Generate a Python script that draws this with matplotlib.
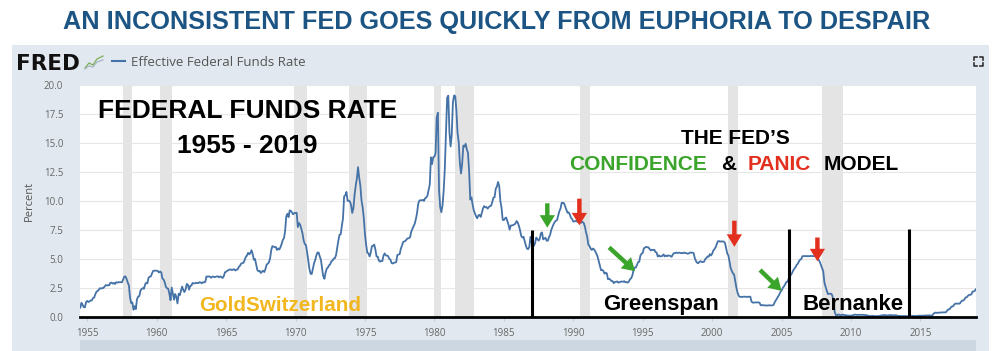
import numpy as np
import matplotlib
matplotlib.use("Agg")
import matplotlib.pyplot as plt
from matplotlib.patches import Rectangle
from matplotlib.lines import Line2D

W, H = 993, 351

# ---------------- data: Effective Federal Funds Rate (monthly, from Jul 1954) ----------------
start_year = 1954.5
rate_1950s = [0.80, 1.22, 1.06, 0.85, 0.83, 1.28,
              1.39, 1.29, 1.35, 1.43, 1.43, 1.64, 1.68, 1.96, 2.18, 2.24, 2.35, 2.48,
              2.45, 2.50, 2.50, 2.62, 2.75, 2.71, 2.75, 2.73, 2.95, 2.96, 2.88, 2.94,
              2.84, 3.00, 2.96, 3.00, 3.00, 3.00, 2.99, 3.24, 3.47, 3.50, 3.28, 2.98,
              2.72, 1.67, 1.20, 1.26, 0.63, 0.93, 0.68, 1.53, 1.76, 1.80, 2.27, 2.42,
              2.48, 2.43, 2.80, 2.96, 2.90, 3.39, 3.47, 3.50, 3.76, 3.98, 4.00, 3.99]
rate_1960s = [3.99, 3.97, 3.84, 3.92, 3.85, 3.32, 3.23, 2.98, 2.60, 2.47, 2.44, 1.98,
              1.45, 2.54, 2.02, 1.49, 1.98, 1.73, 1.17, 2.00, 1.88, 2.26, 2.62, 2.33,
              2.15, 2.37, 2.85, 2.78, 2.36, 2.68, 2.71, 2.93, 2.90, 2.90, 2.94, 2.93,
              2.92, 3.00, 2.98, 2.90, 3.00, 2.99, 3.02, 3.49, 3.48, 3.50, 3.48, 3.38,
              3.48, 3.48, 3.43, 3.47, 3.50, 3.50, 3.42, 3.50, 3.45, 3.36, 3.52, 3.85,
              3.90, 3.98, 4.04, 4.09, 4.10, 4.04, 4.09, 4.12, 4.01, 4.08, 4.10, 4.32,
              4.42, 4.60, 4.65, 4.67, 4.90, 5.17, 5.30, 5.53, 5.40, 5.53, 5.76, 5.40,
              4.94, 5.00, 4.53, 4.05, 3.94, 3.98, 3.79, 3.90, 3.99, 3.88, 4.13, 4.51,
              4.60, 4.71, 5.05, 5.76, 6.11, 6.07, 6.02, 6.03, 5.78, 5.91, 5.82, 6.02,
              6.30, 6.64, 6.79, 7.41, 8.67, 8.90, 8.61, 9.19, 9.15, 9.00, 8.85, 8.97]
rate_1970s = [8.98, 8.98, 7.76, 8.10, 7.95, 7.61, 7.21, 6.61, 6.29, 6.20, 5.60, 4.90,
              4.14, 3.72, 3.71, 4.15, 4.63, 4.91, 5.31, 5.56, 5.55, 5.20, 4.91, 4.14,
              3.50, 3.29, 3.83, 4.17, 4.27, 4.46, 4.55, 4.80, 4.87, 5.04, 5.06, 5.33,
              5.94, 6.58, 7.09, 7.12, 7.84, 8.49, 10.40, 10.50, 10.78, 10.01, 10.03, 9.95,
              9.65, 8.97, 9.35, 10.51, 11.31, 11.93, 12.92, 12.01, 11.34, 10.06, 9.45, 8.53,
              7.13, 6.24, 5.54, 5.49, 5.22, 5.55, 6.10, 6.14, 6.24, 5.82, 5.22, 5.20,
              4.87, 4.77, 4.84, 4.82, 5.29, 5.48, 5.31, 5.29, 5.25, 5.02, 4.95, 4.65,
              4.61, 4.68, 4.69, 4.73, 5.35, 5.39, 5.42, 5.90, 6.14, 6.47, 6.51, 6.56,
              6.70, 6.78, 6.79, 6.89, 7.36, 7.60, 7.81, 8.04, 8.45, 8.96, 9.76, 10.03,
              10.07, 10.06, 10.09, 10.01, 10.24, 10.29, 10.47, 10.94, 11.43, 13.77, 13.18, 13.78]
rate_1980s = [13.82, 14.13, 17.19, 17.61, 10.98, 9.47, 9.03, 9.61, 10.87, 12.81, 15.85, 18.90,
              19.08, 15.93, 14.70, 15.72, 18.52, 19.10, 19.04, 17.82, 15.87, 15.08, 13.31, 12.37,
              13.22, 14.78, 14.68, 14.94, 14.45, 14.15, 12.59, 10.12, 10.31, 9.71, 9.20, 8.95,
              8.68, 8.51, 8.77, 8.80, 8.63, 8.98, 9.37, 9.56, 9.45, 9.48, 9.34, 9.47,
              9.56, 9.59, 9.91, 10.29, 10.32, 11.06, 11.23, 11.64, 11.30, 9.99, 9.43, 8.38,
              8.35, 8.50, 8.58, 8.27, 7.97, 7.53, 7.88, 7.90, 7.92, 7.99, 8.05, 8.27,
              8.14, 7.86, 7.48, 6.99, 6.85, 6.92, 6.56, 6.17, 5.89, 5.85, 6.04, 6.91,
              6.43, 6.10, 6.13, 6.37, 6.85, 6.73, 6.58, 6.73, 7.22, 7.29, 6.69, 6.77,
              6.83, 6.58, 6.58, 6.87, 7.09, 7.51, 7.75, 8.01, 8.19, 8.30, 8.35, 8.76,
              9.12, 9.36, 9.85, 9.84, 9.81, 9.53, 9.24, 8.99, 9.02, 8.84, 8.55, 8.45]
rate_1990s = [8.23, 8.24, 8.28, 8.26, 8.18, 8.29, 8.15, 8.13, 8.20, 8.11, 7.81, 7.31,
              6.91, 6.25, 6.12, 5.91, 5.78, 5.90, 5.82, 5.66, 5.45, 5.21, 4.81, 4.43,
              4.03, 4.06, 3.98, 3.73, 3.82, 3.76, 3.25, 3.30, 3.22, 3.10, 3.09, 2.92,
              3.02, 3.03, 3.07, 2.96, 3.00, 3.04, 3.06, 3.03, 3.09, 2.99, 3.02, 2.96,
              3.05, 3.25, 3.34, 3.56, 4.01, 4.25, 4.26, 4.47, 4.73, 4.76, 5.29, 5.45,
              5.53, 5.92, 5.98, 6.05, 6.01, 6.00, 5.85, 5.74, 5.80, 5.76, 5.80, 5.60,
              5.56, 5.22, 5.31, 5.22, 5.24, 5.27, 5.40, 5.22, 5.30, 5.24, 5.31, 5.29,
              5.25, 5.19, 5.39, 5.51, 5.50, 5.56, 5.52, 5.54, 5.54, 5.50, 5.52, 5.50,
              5.56, 5.51, 5.49, 5.45, 5.49, 5.56, 5.54, 5.55, 5.51, 5.07, 4.83, 4.68,
              4.63, 4.76, 4.81, 4.74, 4.74, 4.76, 4.99, 5.07, 5.22, 5.20, 5.42, 5.30]
rate_2000s = [5.45, 5.73, 5.85, 6.02, 6.27, 6.53, 6.54, 6.50, 6.52, 6.51, 6.51, 6.40,
              5.98, 5.49, 5.31, 4.80, 4.21, 3.97, 3.77, 3.65, 3.07, 2.49, 2.09, 1.82,
              1.73, 1.74, 1.73, 1.75, 1.75, 1.75, 1.73, 1.74, 1.75, 1.75, 1.34, 1.24,
              1.24, 1.26, 1.25, 1.26, 1.26, 1.22, 1.01, 1.03, 1.01, 1.01, 1.00, 0.98,
              1.00, 1.01, 1.00, 1.00, 1.00, 1.03, 1.26, 1.43, 1.61, 1.76, 1.93, 2.16,
              2.28, 2.50, 2.63, 2.79, 3.00, 3.04, 3.26, 3.50, 3.62, 3.78, 4.00, 4.16,
              4.29, 4.49, 4.59, 4.79, 4.94, 4.99, 5.24, 5.25, 5.25, 5.25, 5.25, 5.24,
              5.25, 5.26, 5.26, 5.25, 5.25, 5.25, 5.26, 5.02, 4.94, 4.76, 4.49, 4.24,
              3.94, 2.98, 2.61, 2.28, 1.98, 2.00, 2.01, 2.00, 1.81, 0.97, 0.39, 0.16,
              0.15, 0.22, 0.18, 0.15, 0.18, 0.21, 0.16, 0.16, 0.15, 0.12, 0.12, 0.12]
rate_2010s = [0.11, 0.13, 0.16, 0.20, 0.20, 0.18, 0.18, 0.19, 0.19, 0.19, 0.19, 0.18,
              0.17, 0.16, 0.14, 0.10, 0.09, 0.09, 0.07, 0.10, 0.08, 0.07, 0.08, 0.07,
              0.08, 0.10, 0.13, 0.14, 0.16, 0.16, 0.16, 0.13, 0.14, 0.16, 0.16, 0.16,
              0.14, 0.15, 0.14, 0.15, 0.11, 0.09, 0.09, 0.08, 0.08, 0.09, 0.08, 0.09,
              0.07, 0.07, 0.08, 0.09, 0.09, 0.10, 0.09, 0.09, 0.09, 0.09, 0.09, 0.12,
              0.11, 0.11, 0.11, 0.12, 0.12, 0.13, 0.13, 0.14, 0.14, 0.12, 0.12, 0.24,
              0.34, 0.38, 0.36, 0.37, 0.37, 0.38, 0.39, 0.40, 0.40, 0.40, 0.41, 0.54,
              0.65, 0.66, 0.79, 0.90, 0.91, 1.04, 1.15, 1.16, 1.15, 1.15, 1.16, 1.30,
              1.41, 1.42, 1.51, 1.69, 1.70, 1.82, 1.91, 1.91, 1.95, 2.19, 2.20, 2.27,
              2.40]

recessions = [(1957.58, 1958.25), (1960.25, 1961.08), (1969.92, 1970.83),
              (1973.83, 1975.17), (1980.0, 1980.5), (1981.5, 1982.83),
              (1990.5, 1991.17), (2001.17, 2001.83), (2007.92, 2009.42)]

era_lines_x = [1987.05, 2005.56, 2014.18]
era_lines_top = [7.5, 7.55, 7.55]

green_arrows = [((1988.13, 9.8), (1988.13, 7.7)),
                ((1992.58, 6.0), (1994.45, 3.95)),
                ((2003.45, 4.05), (2005.0, 2.25))]
red_arrows = [((1990.44, 10.2), (1990.44, 7.9)),
              ((2001.6, 8.3), (2001.6, 6.05)),
              ((2007.58, 6.85), (2007.58, 4.8))]

x_ticks = [1955, 1960, 1965, 1970, 1975, 1980, 1985, 1990, 1995, 2000, 2005, 2010, 2015]
y_ticks = [0.0, 2.5, 5.0, 7.5, 10.0, 12.5, 15.0, 17.5, 20.0]

rates = np.array(rate_1950s + rate_1960s + rate_1970s + rate_1980s +
                 rate_1990s + rate_2000s + rate_2010s)
dates = start_year + np.arange(len(rates)) / 12.0

# ---------------- figure ----------------
def fx(px):
    return px / W

def fy(py):
    return 1 - py / H

fig = plt.figure(figsize=(W / 100, H / 100), dpi=100)
fig.patch.set_facecolor("white")

panel_col = "#e1e8ef"
fig.add_artist(Rectangle((fx(12), fy(351)), (989 - 12) / W, (351 - 45) / H,
                         transform=fig.transFigure, facecolor=panel_col,
                         edgecolor="none", zorder=-10))
fig.add_artist(Rectangle((fx(80), fy(351)), (976 - 80) / W, (351 - 340) / H,
                         transform=fig.transFigure, facecolor="#cdd7e2",
                         edgecolor="none", zorder=-9))

ax = fig.add_axes([fx(80), fy(317), (976 - 80) / W, (317 - 85) / H])
ax.set_facecolor("white")
ax.set_xlim(1954.48, 2019.0)
ax.set_ylim(0, 20)

for a, b in recessions:
    ax.axvspan(a, b, color="#e4e4e4", lw=0, zorder=0)

ax.set_yticks(y_ticks)
ax.set_yticklabels([f"{v:.1f}" for v in y_ticks])
ax.set_xticks(x_ticks)
ax.set_xticklabels([str(v) for v in x_ticks])
ax.grid(axis="y", color="#e6e6e6", lw=0.8, zorder=0)
ax.set_axisbelow(True)
for s in ["left", "right", "top"]:
    ax.spines[s].set_visible(False)
ax.spines["bottom"].set_color("black")
ax.spines["bottom"].set_linewidth(2.0)
ax.spines["bottom"].set_zorder(6)
ax.tick_params(axis="y", length=0, pad=12, labelsize=7, labelcolor="#666666")
ax.tick_params(axis="x", length=3, color="#cccccc", pad=5, labelsize=7,
               labelcolor="#666666")
for lab in ax.get_xticklabels() + ax.get_yticklabels():
    lab.set_family(["Open Sans", "DejaVu Sans"])

ax.plot(dates, rates, color="#4572a7", lw=1.3, zorder=3, solid_joinstyle="round")

ax.vlines(era_lines_x, 0, era_lines_top, color="black", lw=2.2, zorder=4)

for tail, tip in green_arrows:
    ax.annotate("", xy=tip, xytext=tail, zorder=5,
                arrowprops=dict(facecolor="#3aa52a", edgecolor="none", width=3.2,
                                headwidth=11, headlength=9, shrink=0))
for tail, tip in red_arrows:
    ax.annotate("", xy=tip, xytext=tail, zorder=5,
                arrowprops=dict(facecolor="#e3301e", edgecolor="none", width=3.2,
                                headwidth=11, headlength=9, shrink=0))

bold = ["Liberation Sans", "DejaVu Sans"]

# annotations inside the chart
fig.text(fx(248), fy(118), "FEDERAL FUNDS RATE", ha="center", va="baseline",
         fontsize=19, fontweight="bold", family=bold, color="black")
fig.text(fx(247), fy(153), "1955 - 2019", ha="center", va="baseline",
         fontsize=19, fontweight="bold", family=bold, color="black")
fig.text(fx(280), fy(311), "GoldSwitzerland", ha="center", va="baseline",
         fontsize=14.9, fontweight="bold", family=bold, color="#f2b71f")
fig.text(fx(735.5), fy(144.5), "THE FED\u2019S", ha="center", va="baseline",
         fontsize=15, fontweight="bold", family=bold, color="black")
fig.text(fx(569), fy(170), "CONFIDENCE", ha="left", va="baseline",
         fontsize=15, fontweight="bold", family=bold, color="#3aa52a")
fig.text(fx(721.5), fy(170), "&", ha="left", va="baseline",
         fontsize=15, fontweight="bold", family=bold, color="black")
fig.text(fx(748), fy(170), "PANIC", ha="left", va="baseline",
         fontsize=15, fontweight="bold", family=bold, color="#e3301e")
fig.text(fx(824), fy(170), "MODEL", ha="left", va="baseline",
         fontsize=15, fontweight="bold", family=bold, color="black")
fig.text(fx(603), fy(310), "Greenspan", ha="left", va="baseline",
         fontsize=16, fontweight="bold", family=bold, color="black")
fig.text(fx(803), fy(310), "Bernanke", ha="left", va="baseline",
         fontsize=16, fontweight="bold", family=bold, color="black")

# title
fig.text(fx(497), fy(29), "AN INCONSISTENT FED GOES QUICKLY FROM EUPHORIA TO DESPAIR",
         ha="center", va="baseline", fontsize=18.2, fontweight="bold",
         family=bold, color="#1c5483")

# FRED header
fig.text(fx(16), fy(69.5), "FRED", ha="left", va="baseline", fontsize=15.5,
         fontweight="heavy", family=["DejaVu Sans"], color="#111111")
fig.add_artist(Line2D([fx(85), fx(89), fx(93), fx(97), fx(103)],
                      [fy(68), fy(63), fy(65), fy(59), fy(56)],
                      transform=fig.transFigure, color="#7fae5a", lw=0.9))
fig.add_artist(Line2D([fx(85), fx(89), fx(93), fx(97), fx(103)],
                      [fy(69), fy(66), fy(67), fy(62), fy(60)],
                      transform=fig.transFigure, color="#a8b8c8", lw=0.9))
fig.add_artist(Line2D([fx(112), fx(125)], [fy(61), fy(61)],
                      transform=fig.transFigure, color="#4572a7", lw=1.5))
fig.text(fx(131), fy(66), "Effective Federal Funds Rate", ha="left", va="baseline",
         fontsize=9.5, family=["Open Sans", "DejaVu Sans"], color="#555555")

# expand icon
for (cx, cy, dx, dy) in [(974, 57, 1, 1), (983, 57, -1, 1), (974, 66, 1, -1), (983, 66, -1, -1)]:
    fig.add_artist(Line2D([fx(cx), fx(cx), fx(cx + 3 * dx)],
                          [fy(cy + 3 * dy), fy(cy), fy(cy)],
                          transform=fig.transFigure, color="#333333", lw=1.2))

fig.text(fx(29), fy(201), "Percent", rotation=90, ha="center", va="center",
         fontsize=8, family=["Open Sans", "DejaVu Sans"], color="#555555")

fig.savefig("out.png", dpi=100)
